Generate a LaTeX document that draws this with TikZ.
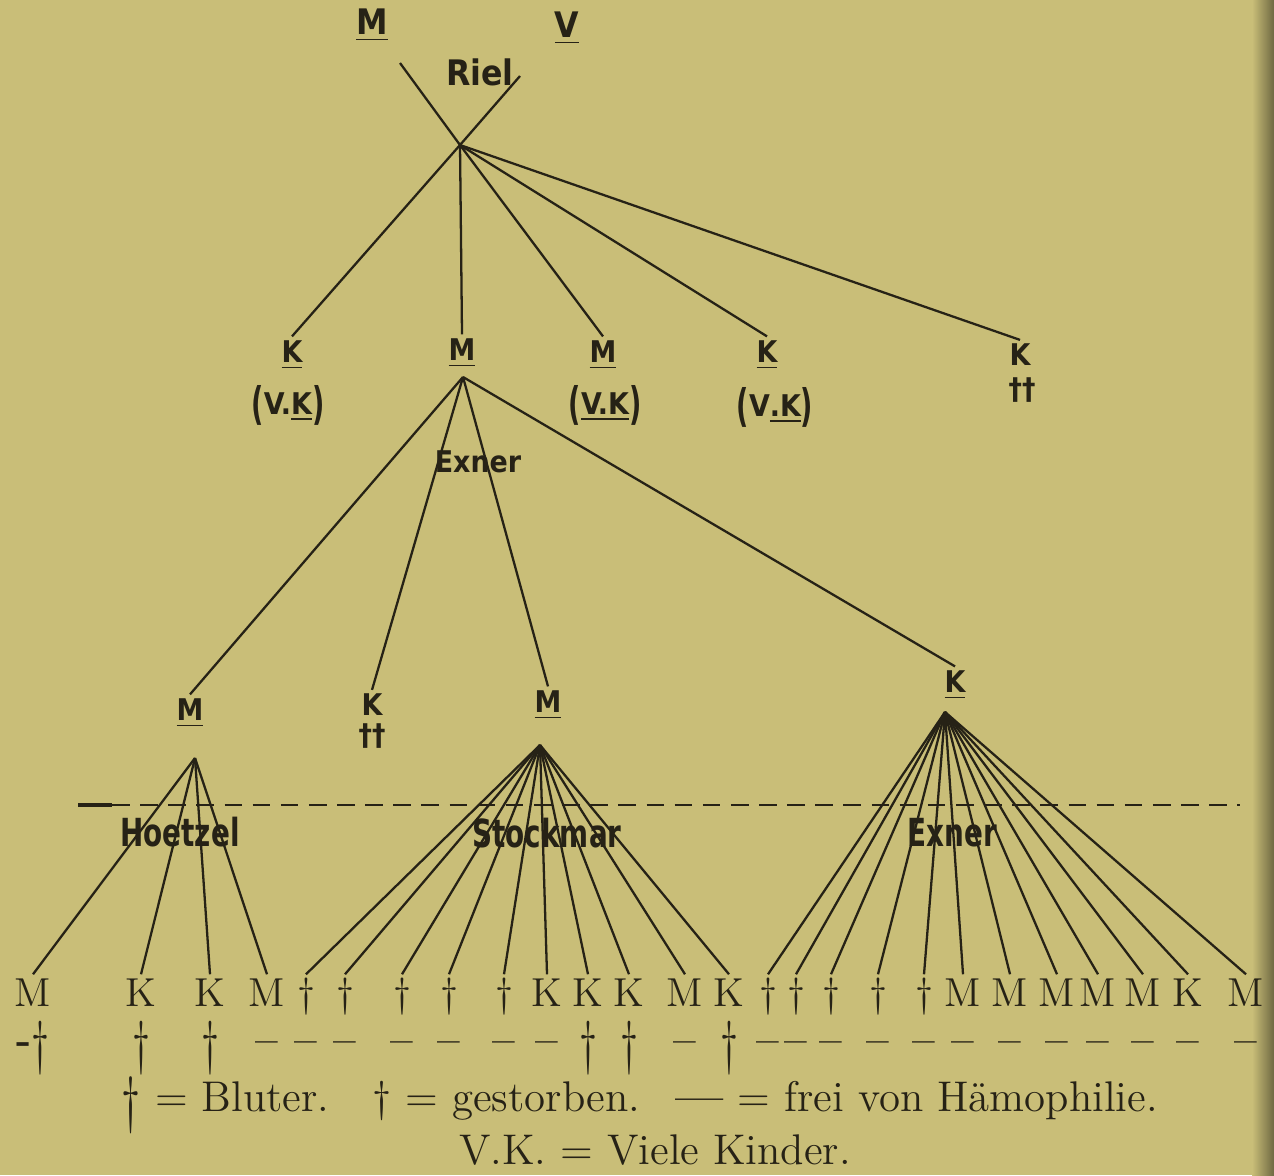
\documentclass[tikz,border=0pt]{standalone}
\usepackage{fontspec}
\usepackage{graphicx}
\newfontfamily\stampfont{DejaVu Sans Condensed}
\usetikzlibrary{positioning}
\definecolor{paper}{RGB}{201,190,120}
\definecolor{ink}{RGB}{38,34,22}
% large dagger = Bluter, plain dagger = gestorben, bar = frei
\newcommand{\bluter}{\raisebox{-0.5ex}{\scalebox{1}[1.45]{\dag}}}
\newcommand{\frei}{\textbf{--}}
\newcommand{\vk}[1]{\raisebox{-0.3ex}{\scalebox{1}[1.5]{(}}#1\raisebox{-0.3ex}{\scalebox{1}[1.5]{)}}}
\newcommand{\narrow}[1]{\scalebox{0.8}[1]{#1}}

\begin{document}
\begin{tikzpicture}[
  x=0.01cm, y=-0.01cm,
  font=\fontsize{12.2}{15}\selectfont, color=ink,
  lab/.style={font=\stampfont\bfseries\fontsize{8.5}{10}\selectfont, inner sep=1pt},
  top/.style={lab, font=\stampfont\bfseries\fontsize{10}{12}\selectfont},
  fam/.style={lab, font=\stampfont\bfseries\fontsize{11}{13}\selectfont},
  kid/.style={inner sep=1.5pt, text height=1.75ex, text depth=0.2ex,
              font=\fontsize{11.5}{14}\selectfont},
  sign/.style={inner sep=1pt, font=\fontsize{11.5}{14}\selectfont},
  tie/.style={draw=ink, line width=0.65pt}
]
\useasboundingbox (0,0) rectangle (1274,1175);
\fill[paper] (0,0) rectangle (1274,1175);
\shade[left color=paper, right color=paper!55!black] (1252,0) rectangle (1274,1175);

% parents
\node[top] (mr) at (372,25) {\underline{M}};
\node[top] (vr) at (567,28) {\underline{V}};
\node[top] (riel) at (480,72) {Riel};
\coordinate (mr-e) at (400,63);
\coordinate (vr-e) at (520,76);
\coordinate (h0) at (460,145);
\draw[tie] (mr-e) -- (h0);
\draw[tie] (vr-e) -- (h0);

% second generation
\node[lab] (k1) at (292,355) {\underline{K}};
\node[lab] (k1v) at (288,405) {\vk{V.\underline{K}}};
\node[lab] (m1) at (462,353) {\underline{M}};
\node[lab] (m2) at (603,355) {\underline{M}};
\node[lab] (m2v) at (605,405) {\vk{\underline{V.K}}};
\node[lab] (k2) at (767,355) {\underline{K}};
\node[lab] (k2v) at (775,407) {\vk{V\underline{.K}}};
\node[lab] (k3) at (1020,355) {K};
\node[lab] (k3d) at (1022,390) {\dag\dag};
\foreach \n in {k1,m1,m2,k2,k3}
  \draw[tie] (h0) -- (\n.north);

% third generation
\coordinate (h1) at (463,377);
\node[lab] (exner) at (478,462) {Exner};
\node[lab] (m3) at (190,713) {\underline{M}};
\node[lab] (k4) at (372,705) {K};
\node[lab] (k4d) at (372,736) {\dag\dag};
\node[lab] (m4) at (548,705) {\underline{M}};
\node[lab] (k5) at (955,685) {\underline{K}};
\foreach \n in {m3,k4,m4,k5}
  \draw[tie] (h1) -- (\n.north);

% boundary line
\coordinate (dl) at (78,805);
\coordinate (dm) at (112,805);
\coordinate (dr) at (1240,805);
\draw[tie, line width=1.3pt] (dl) -- (dm);
\draw[tie, dash pattern=on 5pt off 3pt] (dm) -- (dr);

\node[fam] (hoetzel) at (180,832) {\narrow{Hoetzel}};
\node[fam] (stockmar) at (547,833) {\narrow{Stockmar}};
\node[fam] (exner2) at (952,833) {\narrow{Exner}};

% fourth generation
\foreach \x/\t [count=\i] in {33/M, 141/K, 210/K, 267/M, 306/\dag, 345/\dag, 402/\dag,
    449/\dag, 504/\dag, 547/K, 588/K, 629/K, 685/M, 729/K, 768/\dag, 796/\dag,
    831/\dag, 878/\dag, 924/\dag, 963/M, 1010/M, 1057/M, 1098/M, 1143/M, 1188/K, 1246/M}
  \node[kid] (c\i) at (\x,995) {\t};
\foreach \x/\t [count=\i] in {33/\textbf{-}\bluter, 141/\bluter, 210/\bluter, 267/\frei, 306/\frei,
    345/\frei, 402/\frei, 449/\frei, 504/\frei, 547/\frei, 588/\bluter, 629/\bluter, 685/\frei,
    729/\bluter, 768/\frei, 796/\frei, 831/\frei, 878/\frei, 924/\frei, 963/\frei, 1010/\frei,
    1057/\frei, 1098/\frei, 1143/\frei, 1188/\frei, 1246/\frei}
  \node[sign] (s\i) at (\x,1048) {\t};

\coordinate (h2) at (195,758);
\coordinate (h3) at (540,745);
\coordinate (h4) at (945,712);
\foreach \i in {1,...,4}
  \draw[tie] (h2) -- (c\i.north);
\foreach \i in {5,...,14}
  \draw[tie] (h3) -- (c\i.north);
\foreach \i in {15,...,26}
  \draw[tie] (h4) -- (c\i.north);

% legend
\node (key1) at (640,1105) {\bluter{} = Bluter.\quad \dag{} = gestorben.\enspace\ \textbf{---} = frei von Hämophilie.};
\node (key2) at (655,1150) {V.K. = Viele Kinder.};
\end{tikzpicture}
\end{document}
